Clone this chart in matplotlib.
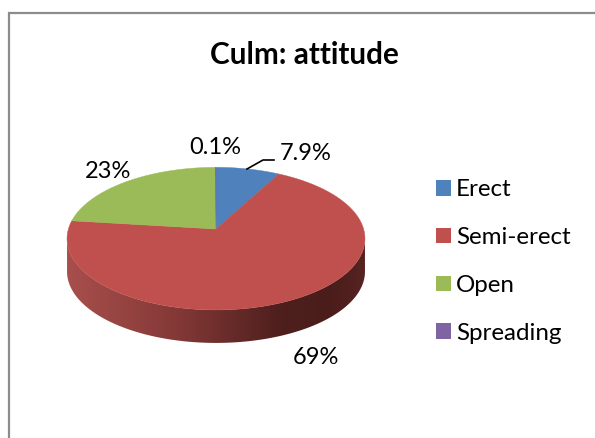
import numpy as np
import matplotlib
matplotlib.use('Agg')
import matplotlib.pyplot as plt
from matplotlib.colors import LinearSegmentedColormap
from matplotlib.patches import Patch, Polygon, Rectangle

title = 'Culm: attitude'
categories = ['Erect', 'Semi-erect', 'Open', 'Spreading']
values = [7.9, 69, 23, 0.1]
value_labels = ['7.9%', '69%', '23%', '0.1%']
colors = ['#4F81BD', '#C0504D', '#9BBB59', '#8064A2']

plt.rcParams['font.family'] = ['Lato', 'DejaVu Sans']

# pie geometry, all in pixels of the picture
cx, cy = 216.0, 229.0
k = 0.135
a = 70.0
c = 147.6
depth = 33.0


def project(theta):
    # theta runs clockwise from the top, tilted circle with some perspective
    u = np.sin(theta)
    v = np.cos(theta)
    w = 1 + k*v
    return cx + c*u/w, cy - a*v/w


fig = plt.figure(figsize=(5.95, 4.38), dpi=100)
ax = fig.add_axes([0, 0, 1, 1])
ax.set_xlim(0, 595)
ax.set_ylim(438, 0)
ax.axis('off')

# chart frame, right and bottom sides are cut off in the picture
ax.add_patch(Rectangle((8.5, 13), 640, 480, fc='white', ec='#8C8C8C', lw=1.6))

# side wall of the big slice, shaded from left to right
shade = LinearSegmentedColormap.from_list('wall', [(0, '#A84F4C'), (0.35, '#863A38'), (0.72, '#4E1F1D'),
                                                   (0.88, '#4A1D1B'), (1, '#562321')])
th_wall = np.linspace(np.radians(97.8), np.radians(262.2), 240)
x_wall, y_wall = project(th_wall)
wall_pts = list(zip(x_wall, y_wall)) + list(zip(x_wall[::-1], y_wall[::-1]+depth))
wall = Polygon(wall_pts, fc='none', ec='none')
ax.add_patch(wall)
im = ax.imshow(np.linspace(0, 1, 256).reshape(1, -1), cmap=shade, aspect='auto', interpolation='bilinear',
               extent=(x_wall.min(), x_wall.max(), 345, 230), zorder=1.5)
im.set_clip_path(wall)
ax.set_xlim(0, 595)
ax.set_ylim(438, 0)

# top of the pie
edges = np.concatenate([[0], np.cumsum(values)])/np.sum(values)*2*np.pi
for i in range(len(values)):
    th = np.linspace(edges[i], edges[i+1], 200)
    x, y = project(th)
    pts = [(cx, cy)] + list(zip(x, y))
    ax.add_patch(Polygon(pts, fc=colors[i], ec=colors[i], lw=0.3, zorder=2))

# data labels
label_pos = [(306, 153), (316, 358), (108, 171), (215, 147)]
for txt, (lx, ly) in zip(value_labels, label_pos):
    ax.text(lx, ly, txt, ha='center', va='center', fontsize=17, color='black')
ax.plot([247, 263, 274], [169, 160, 160], color='black', lw=1.2)

ax.text(304.5, 55, title, ha='center', va='center', fontsize=21.4, fontweight='bold', color='black')

handles = [Patch(fc=col, ec='none') for col in colors]
ax.legend(handles, categories, loc='center left', bbox_to_anchor=(436, 261.5), bbox_transform=ax.transData,
          frameon=False, fontsize=17.4, handlelength=0.62, handleheight=0.62, handletextpad=0.2,
          labelspacing=1.105, borderpad=0, borderaxespad=0, labelcolor='black')

fig.savefig('out.png', dpi=100)
